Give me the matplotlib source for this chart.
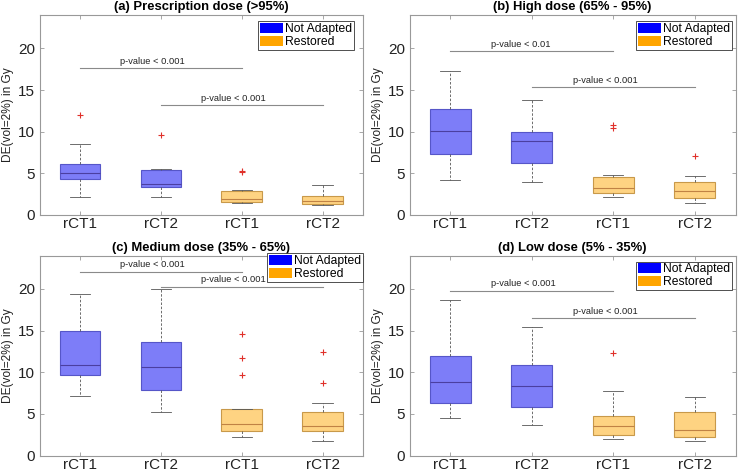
import matplotlib
matplotlib.use("Agg")
import matplotlib.pyplot as plt
from matplotlib.patches import Patch

plt.rcParams['font.family'] = ['Liberation Sans', 'DejaVu Sans']

# box statistics, per panel: [rCT1 NA, rCT2 NA, rCT1 R, rCT2 R]
titles = ['(a) Prescription dose (>95%)', '(b) High dose (65% - 95%)',
          '(c) Medium dose (35% - 65%)', '(d) Low dose (5% - 35%)']
tick_labels = ['rCT1', 'rCT2', 'rCT1', 'rCT2']
groups = ['Not Adapted', 'Not Adapted', 'Restored', 'Restored']

whislo = [[2.12, 2.12, 1.44, 1.20],
          [4.16, 4.00, 2.16, 1.44],
          [7.09, 5.21, 2.24, 1.72],
          [4.49, 3.65, 2.00, 1.76]]
q1 = [[4.28, 3.32, 1.56, 1.28],
      [7.28, 6.28, 2.60, 2.08],
      [9.66, 7.86, 2.89, 2.93],
      [6.29, 5.81, 2.44, 2.20]]
med = [[5.00, 3.72, 1.92, 1.72],
       [10.04, 8.84, 3.20, 2.88],
       [10.86, 10.62, 3.77, 3.57],
       [8.86, 8.38, 3.57, 3.05]]
q3 = [[6.08, 5.36, 2.88, 2.32],
      [12.68, 9.92, 4.52, 3.96],
      [14.95, 13.67, 5.57, 5.17],
      [11.90, 10.86, 4.77, 5.21]]
whishi = [[8.48, 5.52, 2.96, 3.60],
          [17.28, 13.80, 4.84, 4.64],
          [19.36, 20.00, 5.60, 6.29],
          [18.68, 15.47, 7.78, 7.01]]
fliers = [[[11.96], [9.60], [5.16, 5.32], []],
          [[], [], [10.44, 10.76], [7.12]],
          [[], [], [9.66, 11.66, 14.63], [8.74, 12.42]],
          [[], [], [12.34], []]]

# significance bars: (x from, x to, y, label)
sig_bars = [[(1, 3, 17.6, 'p-value < 0.001'), (2, 4, 13.2, 'p-value < 0.001')],
            [(1, 3, 19.72, 'p-value < 0.01'), (2, 4, 15.4, 'p-value < 0.001')],
            [(1, 3, 22.08, 'p-value < 0.001'), (2, 4, 20.28, 'p-value < 0.001')],
            [(1, 3, 19.8, 'p-value < 0.001'), (2, 4, 16.55, 'p-value < 0.001')]]

fill = {'Not Adapted': '#7d7df8', 'Restored': '#fed382'}
edge = {'Not Adapted': '#5656c8', 'Restored': '#c8994a'}
median_col = {'Not Adapted': '#4b3fa0', 'Restored': '#c08244'}
legend_col = {'Not Adapted': '#0000ff', 'Restored': '#ffa500'}

W, H = 741, 471
fig = plt.figure(figsize=(W / 100, H / 100), dpi=100)

# axes boxes in pixels: left, top, width, height
boxes_px = [(39.5, 15, 323.5, 200), (409.5, 15, 326, 200),
            (39.5, 255.5, 323.5, 200), (409.5, 255.5, 326, 200)]
legend_anchor = [(354, 21.5), (732, 21.5), (363, 253), (732, 261.5)]

for k in range(4):
    l, t, w, h = boxes_px[k]
    ax = fig.add_axes([l / W, 1 - (t + h) / H, w / W, h / H])

    stats = []
    for i in range(4):
        stats.append(dict(whislo=whislo[k][i], q1=q1[k][i], med=med[k][i],
                          q3=q3[k][i], whishi=whishi[k][i], fliers=fliers[k][i]))
    bp = ax.bxp(stats, positions=[1, 2, 3, 4], widths=0.5, capwidths=0.25,
                patch_artist=True, manage_ticks=False,
                flierprops=dict(marker='+', markeredgecolor='#e0302a', markersize=5,
                                markeredgewidth=0.8, linestyle='none'))
    for i in range(4):
        g = groups[i]
        bp['boxes'][i].set_facecolor(fill[g])
        bp['boxes'][i].set_edgecolor(edge[g])
        bp['boxes'][i].set_linewidth(0.8)
        bp['medians'][i].set_color(median_col[g])
        bp['medians'][i].set_linewidth(0.8)
    for wh in bp['whiskers']:
        wh.set_color('#555555')
        wh.set_linestyle((0, (3, 2)))
        wh.set_linewidth(0.6)
    for cap in bp['caps']:
        cap.set_color('#555555')
        cap.set_linewidth(0.6)

    for x0, x1, y, lab in sig_bars[k]:
        ax.plot([x0, x1], [y, y], color='#8a8a8a', lw=0.8)
        ax.text(x0 + 0.5, y + 0.25, lab, fontsize=6.7, ha='left', va='bottom',
                color='#222222')

    ax.set_xlim(0.5, 4.5)
    ax.set_ylim(0, 24)
    ax.set_yticks([0, 5, 10, 15, 20])
    ax.set_xticks([1, 2, 3, 4])
    ax.set_xticklabels(tick_labels)
    ax.tick_params(direction='in', length=3, width=0.6, colors='#999999',
                   labelcolor='#222222', labelsize=11, top=True, right=True)
    ax.tick_params(axis='x', pad=1.5)
    ax.tick_params(axis='y', pad=3)
    for sp in ax.spines.values():
        sp.set_color('#999999')
        sp.set_linewidth(0.8)
    ax.set_ylabel('DE(vol=2%) in Gy', fontsize=8.6, color='#222222', labelpad=3)
    ax.set_title(titles[k], fontsize=9.4, fontweight='bold', pad=3.3)

    handles = [Patch(facecolor=legend_col[g], edgecolor='none') for g in ['Not Adapted', 'Restored']]
    ax_, ay_ = legend_anchor[k]
    leg = ax.legend(handles, ['Not Adapted', 'Restored'], loc='upper right',
                    bbox_to_anchor=(ax_ / W, 1 - ay_ / H), bbox_transform=fig.transFigure,
                    fontsize=8.7, fancybox=False, framealpha=1, edgecolor='#333333',
                    handlelength=1.9, handleheight=0.9, handletextpad=0.15,
                    labelspacing=0.05, borderpad=0.15, borderaxespad=0.0)
    leg.get_frame().set_linewidth(0.6)

fig.savefig('out.png', dpi=100)
